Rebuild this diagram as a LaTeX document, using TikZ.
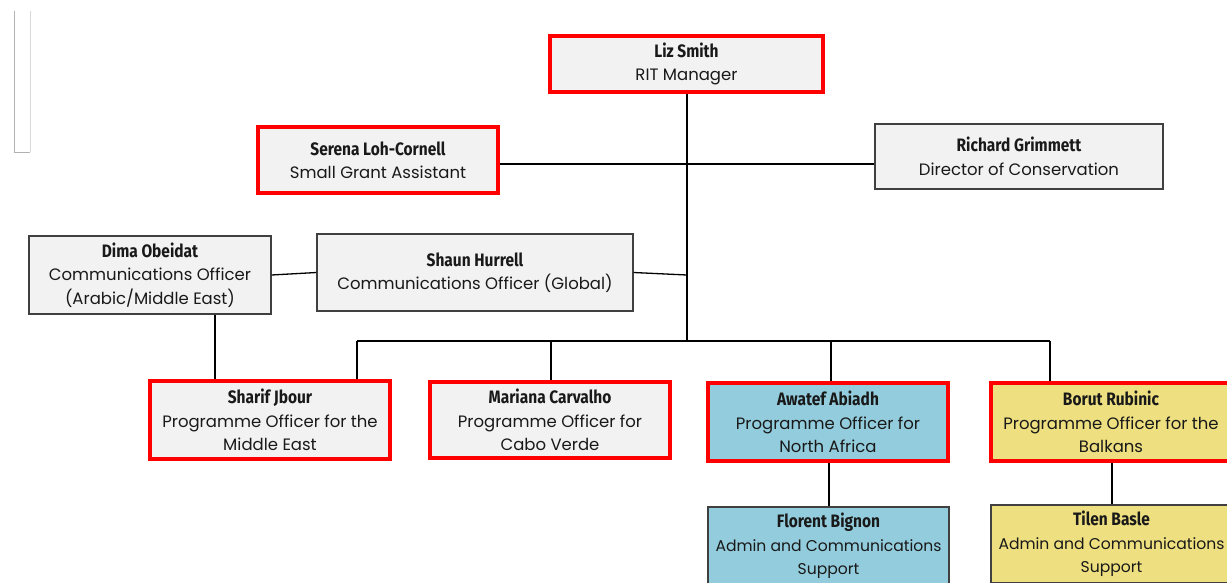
\documentclass[tikz,border=0pt]{standalone}
\usepackage{fontspec}
\setmainfont{Poppins}
\newfontfamily\namefont[FakeStretch=0.86]{Fira Sans}
\definecolor{boxgray}{HTML}{F2F2F2}
\definecolor{boxblue}{HTML}{93CDDD}
\definecolor{boxyellow}{HTML}{EEDF80}
\definecolor{redline}{HTML}{FF0000}
\definecolor{edgegray}{HTML}{404040}
\newcommand{\nm}[1]{{\namefont\bfseries\fontsize{18}{23.5}\selectfont #1}}
\tikzset{
  card/.style={rectangle, inner sep=0pt, align=center, font=\fontsize{16.5}{23.5}\selectfont, text=black!90},
  redcard/.style={card, draw=redline, line width=4pt},
  plaincard/.style={card, draw=edgegray, line width=1.2pt},
  smallcard/.style={plaincard, font=\fontsize{15.6}{23.5}\selectfont},
  link/.style={draw=black, line width=1.3pt},
}
\begin{document}
\begin{tikzpicture}[x=1pt,y=-1pt]
\useasboundingbox (0,0) rectangle (1227,582);
\clip (0,0) rectangle (1227,582);
% faint frame at top left
\draw[black!30, line width=1pt] (14.5,11) -- (14.5,152) -- (30,152);
\draw[black!15, line width=1pt] (30,11) -- (30,152);

\node[redcard, fill=boxgray, minimum width=273pt, minimum height=56pt] (liz) at (686.5,64) {\nm{Liz Smith}\\RIT Manager};
\node[redcard, fill=boxgray, minimum width=240pt, minimum height=66pt] (serena) at (378,160) {\nm{Serena Loh-Cornell}\\Small Grant Assistant};
\node[plaincard, fill=boxgray, minimum width=288pt, minimum height=65pt] (richard) at (1019,156.5) {\nm{Richard Grimmett}\\Director of Conservation};
\node[plaincard, fill=boxgray, minimum width=242pt, minimum height=78pt] (dima) at (150,275) {\nm{Dima Obeidat}\\Communications Officer\\(Arabic/Middle East)};
\node[plaincard, fill=boxgray, minimum width=316pt, minimum height=77pt] (shaun) at (475,272.5) {\nm{Shaun Hurrell}\\Communications Officer (Global)};
\node[redcard, fill=boxgray, minimum width=240pt, minimum height=78pt] (sharif) at (270,420) {\nm{Sharif Jbour}\\Programme Officer for the\\Middle East};
\node[redcard, fill=boxgray, minimum width=240pt, minimum height=76pt] (mariana) at (550,420) {\nm{Mariana Carvalho}\\Programme Officer for\\Cabo Verde};
\node[redcard, fill=boxblue, minimum width=240pt, minimum height=78pt] (awatef) at (828,422) {\nm{Awatef Abiadh}\\Programme Officer for\\North Africa};
\node[redcard, fill=boxyellow, minimum width=240pt, minimum height=78pt] (borut) at (1111,422) {\nm{Borut Rubinic}\\Programme Officer for the\\Balkans};
\node[smallcard, fill=boxblue, minimum width=241pt, minimum height=78pt] (florent) at (828.5,546) {\nm{Florent Bignon}\\Admin and Communications\\Support};
\node[smallcard, fill=boxyellow, minimum width=241pt, minimum height=78pt] (tilen) at (1111.5,544) {\nm{Tilen Basle}\\Admin and Communications\\Support};

\coordinate (hy) at (0,164);
\coordinate (trunk) at (687,275);
\coordinate (busL) at (357,341);
\coordinate (busM) at (687,341);
\coordinate (busR) at (1050,341);

\draw[link] (liz.south -| busM) -- (busM);
\draw[link] (serena.east |- hy) -- (richard.west |- hy);
\draw[link] (shaun.east) -- (trunk);
\draw[link] (dima.east) -- (shaun.west);
\draw[link] (dima.south -| 215,0) -- (sharif.north -| 215,0);
\draw[link] (busL) -- (busR);
\draw[link] (busL) -- (sharif.north -| busL);
\draw[link] (551,341) -- (mariana.north -| 551,0);
\draw[link] (831,341) -- (awatef.north -| 831,0);
\draw[link] (busR) -- (borut.north -| busR);
\draw[link] (awatef.south -| 829,0) -- (florent.north -| 829,0);
\draw[link] (borut.south -| 1112,0) -- (tilen.north -| 1112,0);
\end{tikzpicture}
\end{document}
